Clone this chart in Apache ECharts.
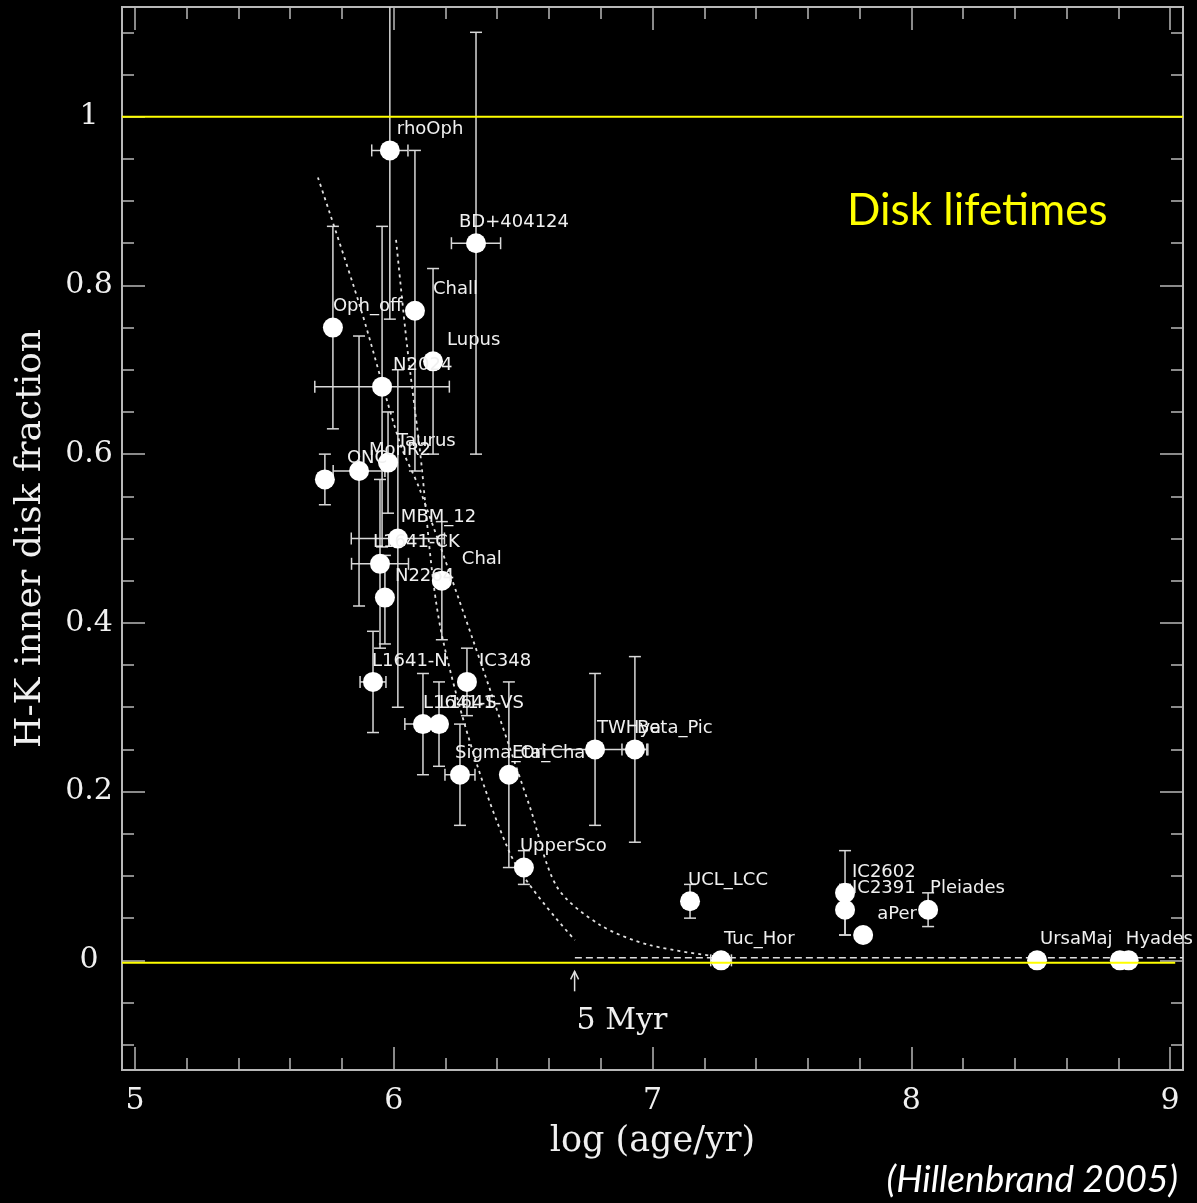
<!DOCTYPE html>
<html><head><meta charset="utf-8">
<script src="https://cdn.jsdelivr.net/npm/echarts@6/dist/echarts.min.js"></script>
<style>html,body{margin:0;padding:0;background:#000;}#c{width:1197px;height:1203px;}</style>
</head><body><div id="c"></div>
<script>
// ---- data ----
const names      = ['rhoOph','BD+404124','Chall','Oph_off','Lupus','N2024','ONC','MonR2','Taurus','MBM_12','L1641-CK','N2264','Chal','L1641-N','IC348','L1641-S','L1641-VS','Sigma_Ori','Eta_Cha','UpperSco','TWHya','Beta_Pic','UCL_LCC','Tuc_Hor','IC2602','IC2391','aPer','Pleiades','UrsaMaj','Hyades',''];
const logAge     = [5.985,6.318,6.082,5.765,6.152,5.955,5.734,5.866,5.978,6.016,5.947,5.966,6.186,5.920,6.283,6.113,6.175,6.256,6.445,6.503,6.778,6.932,7.145,7.265,7.744,7.744,7.814,8.065,8.486,8.806,8.840];
const diskFrac   = [0.96,0.85,0.77,0.75,0.71,0.68,0.57,0.58,0.59,0.50,0.47,0.43,0.45,0.33,0.33,0.28,0.28,0.22,0.22,0.11,0.25,0.25,0.07,0.00,0.08,0.06,0.03,0.06,0.00,0.00,0.00];
const ageErr     = [0.07,0.095,0,0,0,0.26,0,0.10,0,0.18,0.11,0,0,0.05,0,0.07,0,0.058,0,0,0.20,0.05,0,0.04,0,0,0,0,0,0,0];
const fracErrLo  = [0.20,0.25,0.19,0.12,0.11,0.19,0.03,0.16,0.06,0.20,0.10,0.055,0.07,0.06,0.04,0.06,0.05,0.06,0.11,0.02,0.09,0.11,0.02,0,0.05,0.03,0,0.02,0,0,0];
const fracErrHi  = [0.20,0.25,0.19,0.12,0.11,0.19,0.03,0.16,0.06,0.20,0.10,0.05,0.07,0.06,0.04,0.06,0.05,0.06,0.11,0.02,0.09,0.11,0.02,0,0.05,0.03,0,0.02,0,0,0];

// dotted fit curves
const fitA_x = [5.707,5.870,6.024,6.101,6.306,6.527,6.631,6.797,6.990,7.260];
const fitA_y = [0.928,0.775,0.613,0.558,0.380,0.181,0.087,0.042,0.018,0.004];
const fitB_x = [6.009,6.051,6.098,6.190,6.449,6.700];
const fitB_y = [0.854,0.730,0.613,0.380,0.127,0.024];
const flat_x = [6.70,9.05];
const flat_y = [0.003,0.003];
const marker5Myr = [6.699,0];

// ticks
const xMajor = [5,6,7,8,9];
const xMinor = [5.2,5.4,5.6,5.8,6.2,6.4,6.6,6.8,7.2,7.4,7.6,7.8,8.2,8.4,8.6,8.8];
const yMajor = [0,0.2,0.4,0.6,0.8,1];
const yMinor = [-0.1,-0.05,0.05,0.1,0.15,0.25,0.3,0.35,0.45,0.5,0.55,0.65,0.7,0.75,0.85,0.9,0.95,1.05,1.1];

// label horizontal shifts (layout only)
const labelDx = {'rhoOph':7,'BD+404124':-17,'Chall':18,'Oph_off':0,'Lupus':14,'N2024':11,'ONC':22,'MonR2':10,'Taurus':9,'MBM_12':3,'L1641-CK':-7,'N2264':10,'Chal':20,'L1641-N':-1,'IC348':12,'L1641-S':0,'L1641-VS':0,'Sigma_Ori':-5,'Eta_Cha':3,'UpperSco':-4,'TWHya':2,'Beta_Pic':2,'UCL_LCC':-2,'Tuc_Hor':3,'IC2602':7,'IC2391':7,'aPer':14,'Pleiades':2,'UrsaMaj':3,'Hyades':6};

const X_MIN=4.95, X_MAX=9.05, Y_MIN=-0.13, Y_MAX=1.13;
const FRAME='#b8b8b8', TXT='#f0f0f0';

function mkAxis(position, ticks, len, labels, extra){
  const vert = position==='left'||position==='right';
  return {
    type:'value', min: vert?Y_MIN:X_MIN, max: vert?Y_MAX:X_MAX,
    position: position,
    axisLine:{show:true,onZero:false,lineStyle:{color:FRAME,width:2}},
    axisTick:{show:true,inside:true,length:len,customValues:ticks,lineStyle:{color:FRAME,width:1.5}},
    axisLabel: labels ? Object.assign({show:true,customValues:labels,color:TXT,fontFamily:'DejaVu Serif',fontSize:30}, extra||{}) : {show:false},
    splitLine:{show:false}
  };
}

const xAxes = [
  Object.assign(mkAxis('bottom', xMajor, 23, xMajor, {margin:16}), {
    name:'log (age/yr)', nameLocation:'middle', nameGap:54,
    nameTextStyle:{color:TXT,fontFamily:'DejaVu Serif',fontSize:35}}),
  mkAxis('bottom', xMinor, 12, null),
  mkAxis('top', xMajor, 23, null),
  mkAxis('top', xMinor, 12, null)
];
const yAxes = [
  Object.assign(mkAxis('left', yMajor, 23, yMajor, {margin:33, align:'center'}), {
    name:'H-K inner disk fraction', nameLocation:'middle', nameGap:73,
    nameTextStyle:{color:TXT,fontFamily:'DejaVu Serif',fontSize:36}}),
  mkAxis('left', yMinor, 12, null),
  mkAxis('right', yMajor, 23, null),
  mkAxis('right', yMinor, 12, null)
];

const errData = names.map((n,i)=>[logAge[i],diskFrac[i],ageErr[i],fracErrLo[i],fracErrHi[i]]);
const ptData = names.map((n,i)=>{
  const dx = labelDx[n]!==undefined?labelDx[n]:3;
  return {value:[logAge[i],diskFrac[i]], name:n,
    label:{show:n!=='', formatter:n, position:[10+dx,-11]}};
});

const option = {
  backgroundColor:'#000',
  animation:false,
  grid:{left:122,right:14,top:7,bottom:133,containLabel:false},
  xAxis:xAxes, yAxis:yAxes,
  graphic:[
    {type:'text', x:847, y:211, z:100, style:{text:'Disk lifetimes', fill:'#ffff00', font:'44px Lato', verticalAlign:'middle', textVerticalAlign:'middle'}},
    {type:'text', x:1178, y:1180, z:100, style:{text:'(Hillenbrand 2005)', fill:'#ffffff', font:'italic 37px Lato', align:'right', textAlign:'right', verticalAlign:'middle', textVerticalAlign:'middle'}}
  ],
  series:[
    {type:'custom', name:'err', clip:true, z:2, data:errData,
      renderItem:function(params, api){
        const x=api.value(0), y=api.value(1), xe=api.value(2), lo=api.value(3), hi=api.value(4);
        const c=api.coord([x,y]); const st={stroke:'#d8d8d8',lineWidth:1.5}; const cap=6; const ch=[];
        if(lo>0||hi>0){
          const t=api.coord([x,y+hi]), b=api.coord([x,y-lo]);
          ch.push({type:'line',shape:{x1:c[0],y1:t[1],x2:c[0],y2:b[1]},style:st});
          ch.push({type:'line',shape:{x1:c[0]-cap,y1:t[1],x2:c[0]+cap,y2:t[1]},style:st});
          ch.push({type:'line',shape:{x1:c[0]-cap,y1:b[1],x2:c[0]+cap,y2:b[1]},style:st});
        }
        if(xe>0){
          const l=api.coord([x-xe,y]), r=api.coord([x+xe,y]);
          ch.push({type:'line',shape:{x1:l[0],y1:c[1],x2:r[0],y2:c[1]},style:st});
          ch.push({type:'line',shape:{x1:l[0],y1:c[1]-cap,x2:l[0],y2:c[1]+cap},style:st});
          ch.push({type:'line',shape:{x1:r[0],y1:c[1]-cap,x2:r[0],y2:c[1]+cap},style:st});
        }
        return {type:'group',children:ch};
      }},
    {type:'line', name:'fitA', data:fitA_x.map((v,i)=>[v,fitA_y[i]]), showSymbol:false, smooth:0.3, z:3,
      lineStyle:{color:'#e0e0e0',width:1.8,type:[3,4]}},
    {type:'line', name:'fitB', data:fitB_x.map((v,i)=>[v,fitB_y[i]]), showSymbol:false, smooth:0.3, z:3,
      lineStyle:{color:'#e0e0e0',width:1.8,type:[3,4]}},
    {type:'line', name:'flat', data:flat_x.map((v,i)=>[v,flat_y[i]]), showSymbol:false, z:3,
      lineStyle:{color:'#dddddd',width:1.5,type:[7,4]}},
    {type:'scatter', name:'pts', data:ptData, symbol:'circle', symbolSize:20, z:5,
      itemStyle:{color:'#ffffff',opacity:1},
      label:{show:true, color:TXT, fontFamily:'DejaVu Sans', fontSize:18, align:'left', verticalAlign:'middle'}},
    {type:'line', name:'one', data:[[X_MIN,1],[X_MAX,1]], showSymbol:false, z:8,
      lineStyle:{color:'#ffff00',width:2}},
    {type:'line', name:'zero', data:[[X_MIN,-0.003],[X_MAX-0.03,-0.003]], showSymbol:false, z:8,
      lineStyle:{color:'#ffff00',width:2}},
    {type:'custom', name:'ann', z:9, clip:false, data:[marker5Myr],
      renderItem:function(params, api){
        const p=api.coord([api.value(0),api.value(1)]);
        const st={stroke:'#e0e0e0',lineWidth:1.5,fill:null};
        return {type:'group',children:[
          {type:'line',shape:{x1:p[0],y1:p[1]+31,x2:p[0],y2:p[1]+11},style:st},
          {type:'polyline',shape:{points:[[p[0]-4,p[1]+19],[p[0],p[1]+11],[p[0]+4,p[1]+19]]},style:st},
          {type:'text',x:p[0]+2,y:p[1]+61,style:{text:'5 Myr',fill:TXT,font:'30px "DejaVu Serif"',align:'left',verticalAlign:'middle',textAlign:'left',textVerticalAlign:'middle'}}
        ]};
      }}
  ]
};
const chart = echarts.init(document.getElementById('c'));
chart.setOption(option);
</script></body></html>
